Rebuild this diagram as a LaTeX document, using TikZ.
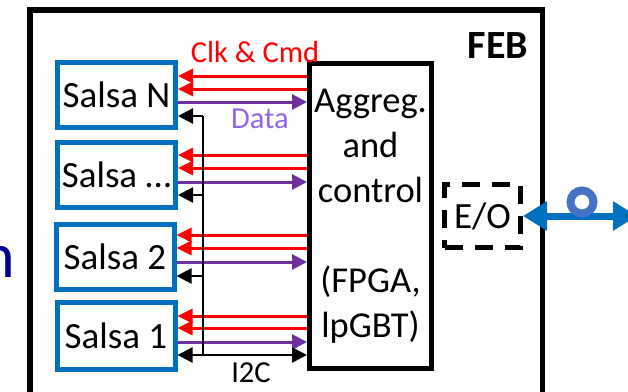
\documentclass[tikz,border=0pt]{standalone}
\usepackage{fontspec}
\setmainfont{Carlito}
\usetikzlibrary{arrows.meta}
\definecolor{salsablue}{RGB}{0,112,192}
\definecolor{ringblue}{RGB}{68,114,196}
\definecolor{clkred}{RGB}{255,0,0}
\definecolor{datapurple}{RGB}{112,48,160}
\definecolor{datatext}{RGB}{146,102,230}
\definecolor{navytext}{RGB}{0,0,150}
\begin{document}
\begin{tikzpicture}[x=1pt,y=-1pt,
  salsa/.style={draw=salsablue, line width=5pt, minimum width=118pt, minimum height=65pt, inner sep=0pt, font=\fontsize{37}{42}\selectfont},
  clk/.style={draw=clkred, line width=3pt, -{Triangle[length=15pt,width=14pt]}},
  dat/.style={draw=datapurple, line width=3pt, -{Triangle[length=15pt,width=15pt]}},
  i2c/.style={draw=black, line width=2.5pt, -{Triangle[length=15pt,width=15pt]}},
  i2cboth/.style={draw=black, line width=2.5pt, {Triangle[length=15pt,width=15pt]}-{Triangle[length=15pt,width=15pt]}},
  busline/.style={draw=black, line width=1.2pt},
  lbl/.style={font=\fontsize{30.5}{36}\selectfont, anchor=base, inner sep=0pt},
]
\useasboundingbox (0,0) rectangle (628,391);
% cut-off text at left edge
\node[anchor=base east, text=navytext, font=\fontsize{64}{70}\selectfont, inner sep=0pt] (cut) at (15,277) {n};
% FEB frame
\node[draw, line width=5.5pt, minimum width=512.5pt, minimum height=410pt, anchor=north west, inner sep=0pt] (feb) at (27.25,7.25) {};
\node[font=\bfseries\fontsize{40}{45}\selectfont, anchor=base, inner sep=0pt] (feblbl) at (498,58) {FEB};
% Salsa chips
\node[salsa] (sN) at (116.5,95) {Salsa N};
\node[salsa] (sD) at (116.5,175) {Salsa …};
\node[salsa] (s2) at (115,257) {Salsa 2};
\node[salsa, minimum height=67pt] (s1) at (116,336) {Salsa 1};
% Aggregator
\node[draw, line width=5pt, minimum width=122pt, minimum height=305pt, inner sep=0pt, align=center, font=\fontsize{36.5}{45}\selectfont] (agg) at (370.5,216) {Aggreg.\\and\\control\\[45pt](FPGA,\\lpGBT)};
% E/O
\node[draw, line width=5pt, dash pattern=on 18pt off 12pt, minimum width=76pt, minimum height=63pt, inner sep=0pt, font=\fontsize{37}{42}\selectfont] (eo) at (482.5,216) {E/O};
\coordinate (fiber) at (637,216);
\draw[draw=salsablue, line width=7pt, {Triangle[length=24pt,width=28pt]}-{Triangle[length=24pt,width=28pt]}] (eo.east) -- (fiber);
\node[circle, draw=ringblue, line width=8pt, minimum size=23pt, inner sep=0pt] (ring) at (582,202) {};
% links
\foreach \s/\ya/\yb/\yd/\yc in {sN/76/89/102/116, sD/155/168/182/195, s2/235/248/262/276} {
  \draw[clk] (agg.west |- 0,\ya) -- (\s.east |- 0,\ya);
  \draw[clk] (agg.west |- 0,\yb) -- (\s.east |- 0,\yb);
  \draw[dat] (\s.east |- 0,\yd) -- (agg.west |- 0,\yd);
  \coordinate (bus\s) at (203,\yc);
  \draw[i2c] (bus\s) -- (\s.east |- bus\s);
}
\draw[clk] (agg.west |- 0,316) -- (s1.east |- 0,316);
\draw[clk] (agg.west |- 0,328) -- (s1.east |- 0,328);
\draw[dat] (s1.east |- 0,342) -- (agg.west |- 0,342);
\coordinate (busBot) at (203,355);
\draw[i2cboth] (s1.east |- busBot) -- (agg.west |- busBot);
\draw[busline] (bussN) -- (busBot);
% labels
\node[lbl, text=clkred] (clklbl) at (255,62) {Clk \& Cmd};
\node[lbl, text=datatext] (datalbl) at (260,128) {Data};
\node[lbl] (i2clbl) at (251,382) {I2C};
\end{tikzpicture}
\end{document}
